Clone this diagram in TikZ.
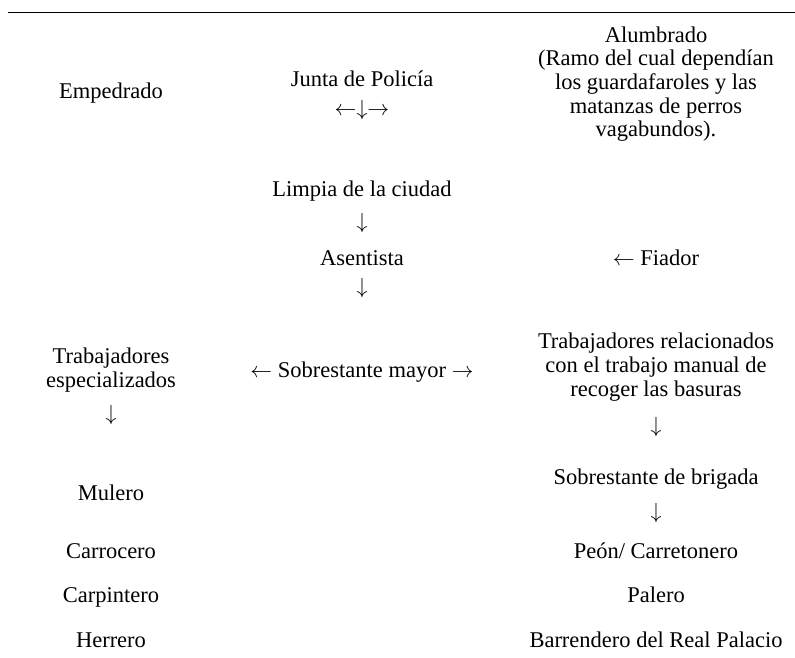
\documentclass[tikz,border=0pt]{standalone}
\usepackage{fontspec}
\setmainfont{Liberation Serif}
\usetikzlibrary{positioning}

\begin{document}
\begin{tikzpicture}[x=0.5pt, y=-0.5pt,
    every node/.style={inner sep=0pt, font=\fontsize{11.25}{11.85}\selectfont},
    entry/.style={anchor=base, align=center},
    arrowmark/.style={anchor=center}]
        \useasboundingbox (0,0) rectangle (795,657);
        \coordinate (ruleL) at (8,12.7);
        \coordinate (ruleR) at (795,12.7);
        \draw[line width=0.65pt] (ruleL) -- (ruleR);

        % left column (multi-line entries sit on their last baseline)
        \node[entry] (empedrado) at (111,99) {Empedrado};
        \node[entry] (especial) at (111,387) {Trabajadores \\ especializados};
        \node[arrowmark] (especarr) at (111,415) {$\downarrow$};
        \node[entry] (mulero) at (111,500) {Mulero};
        \node[entry] (carrocero) at (111,558) {Carrocero};
        \node[entry] (carpintero) at (111,602) {Carpintero};
        \node[entry] (herrero) at (111,647) {Herrero};

        % middle column
        \node[entry] (junta) at (362,87) {Junta de Polic\'ia};
        \node[arrowmark] (juntaarr) at (362,110) {$\leftarrow\downarrow\rightarrow$};
        \node[entry] (limpia) at (362,197) {Limpia de la ciudad};
        \node[arrowmark] (limpiaarr) at (362,223) {$\downarrow$};
        \node[entry] (asentista) at (362,265) {Asentista};
        \node[arrowmark] (asentarr) at (362,288) {$\downarrow$};
        \node[entry] (sobremayor) at (362,377) {$\leftarrow$ Sobrestante mayor $\rightarrow$};

        % right column
        \node[entry] (alumbrado) at (656,137) {Alumbrado \\ (Ramo del cual depend\'ian \\ los guardafaroles y las \\ matanzas de perros \\ vagabundos).};
        \node[entry] (fiador) at (656,265) {$\leftarrow$ Fiador};
        \node[entry] (manual) at (656,396) {Trabajadores relacionados \\ con el trabajo manual de \\ recoger las basuras};
        \node[arrowmark] (manualarr) at (656,427) {$\downarrow$};
        \node[entry] (brigada) at (656,484) {Sobrestante de brigada};
        \node[arrowmark] (brigadaarr) at (656,513) {$\downarrow$};
        \node[entry] (peon) at (656,558) {Pe\'on/ Carretonero};
        \node[entry] (palero) at (656,602) {Palero};
        \node[entry] (barrendero) at (656,647) {Barrendero del Real Palacio};
    \end{tikzpicture}
\end{document}
